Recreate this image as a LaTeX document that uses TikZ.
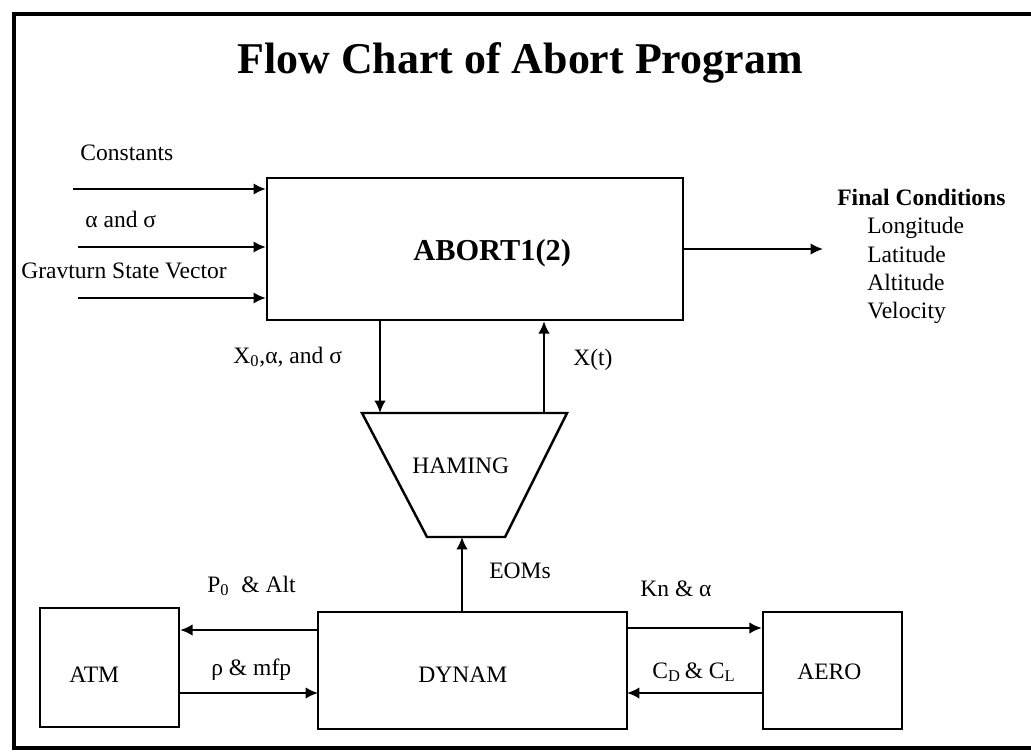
\documentclass[tikz,border=0pt]{standalone}
\usepackage{fontspec}
\setmainfont{Liberation Serif}
\usetikzlibrary{positioning,arrows.meta}
\tikzset{block/.style={rectangle,draw,line width=1.4pt,inner sep=0pt},
  flow/.style={-{Latex[length=7pt,width=6.5pt]},line width=1.1pt},
  txt/.style={font=\fontsize{13.4}{16}\selectfont,inner sep=0pt,anchor=base west},
}

\begin{document}
\begin{tikzpicture}[x=0.02cm,y=-0.02cm]
	\useasboundingbox (0,0) rectangle (1031,751);
	\draw[line width=2.3pt] (1031,14) -- (14,14) -- (14,748) -- (1031,748);

	\node[font=\fontsize{25}{30}\selectfont\bfseries,inner sep=0pt,anchor=base] (title) at (520,73) {Flow Chart of Abort Program};

	% blocks
	\node[block,minimum width=8.32cm,minimum height=2.84cm] (abort) at (475,249) {};
	\node[block,minimum width=6.18cm,minimum height=2.34cm] (dynam) at (472.5,670.5) {};
	\node[block,minimum width=2.78cm,minimum height=2.38cm] (atm) at (109.5,667.5) {};
	\node[block,minimum width=2.78cm,minimum height=2.34cm] (aero) at (832.5,670.5) {};
	% haming funnel
	\coordinate (htl) at (362,413);
	\coordinate (htr) at (567,413);
	\coordinate (hbr) at (505,537);
	\coordinate (hbl) at (427,537);
	\draw[line width=1.4pt,line join=miter] (htl) -- (htr) -- (hbr) -- (hbl) -- cycle;

	\node[txt,font=\fontsize{17.3}{20}\selectfont\bfseries] (abortlbl) at (413,260) {ABORT1(2)};
	\node[txt] (haminglbl) at (412,473) {HAMING};
	\node[txt] (dynamlbl) at (418,682) {DYNAM};
	\node[txt] (atmlbl) at (69,682) {ATM};
	\node[txt] (aerolbl) at (797,679) {AERO};

	% inputs
	\coordinate (in1) at (73,189);
	\coordinate (in2) at (78,247);
	\coordinate (in3) at (78,298);
	\coordinate (fc) at (823,249);
	\node[txt] (const) at (80,160) {Constants};
	\node[txt] (alsig) at (85,227) {α and σ};
	\node[txt] (grav) at (21,278) {Gravturn State Vector};
	\draw[flow] (in1) -- (in1 -| abort.west);
	\draw[flow] (in2) -- (in2 -| abort.west);
	\draw[flow] (in3) -- (in3 -| abort.west);
	\draw[flow] (abort.east) -- (fc);

	% final conditions
	\node[txt,font=\fontsize{13.4}{16}\selectfont\bfseries] (final) at (837,205) {Final Conditions};
	\node[txt] (lon) at (867,233) {Longitude};
	\node[txt] (lat) at (867,262) {Latitude};
	\node[txt] (alt) at (867,290) {Altitude};
	\node[txt] (vel) at (867,318) {Velocity};

	% abort <-> haming
	\coordinate (h1) at (380,413);
	\coordinate (h2) at (544,413);
	\coordinate (h3) at (462,537);
	\draw[flow] (abort.south -| h1) -- (h1);
	\draw[flow] (h2) -- (abort.south -| h2);
	\node[txt] (x0) at (233,363) {X\textsubscript{0},α, and σ};
	\node[txt] (xt) at (573,365) {X(t)};

	% dynam
	\draw[flow] (dynam.north -| h3) -- (h3);
	\node[txt] (eoms) at (489,578) {EOMs};
	\coordinate (a1) at (318,630);
	\coordinate (a2) at (318,693);
	\coordinate (b1) at (627,628);
	\coordinate (b2) at (627,693);
	\draw[flow] (a1) -- (a1 -| atm.east);
	\draw[flow] (a2 -| atm.east) -- (a2);
	\draw[flow] (b1) -- (b1 -| aero.west);
	\draw[flow] (b2 -| aero.west) -- (b2);
	\node[txt] (p0) at (207,592) {P\textsubscript{0}\ \ \& Alt};
	\node[txt] (rho) at (211,675) {ρ \& mfp};
	\node[txt] (kn) at (640,596) {Kn \& α};
	\node[txt] (cdcl) at (652,678) {C\textsubscript{D}\,\& C\textsubscript{L}};
\end{tikzpicture}
\end{document}
